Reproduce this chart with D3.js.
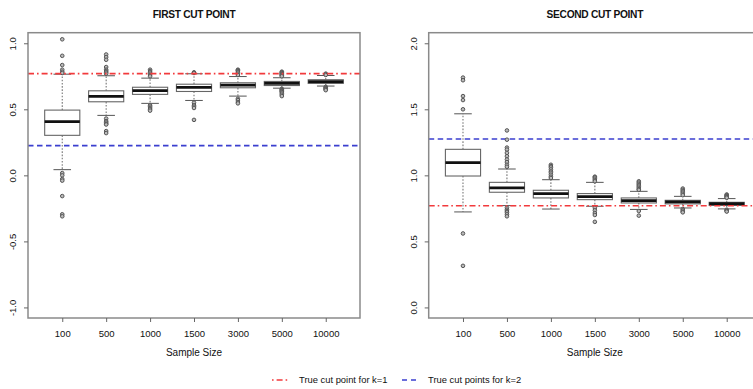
<!DOCTYPE html>
<html>
<head>
<meta charset="utf-8">
<script src="https://cdn.jsdelivr.net/npm/d3@7"></script>
<style>
  html, body { margin: 0; padding: 0; background: #fff; }
  svg { display: block; font-family: "Liberation Sans", Arial, sans-serif; }
</style>
</head>
<body>
<svg id="chart" width="753" height="389"></svg>
<script>
// Sample sizes on the x axis
const sampleSizes = ["100", "500", "1000", "1500", "3000", "5000", "10000"];

// First cut point: box-plot summaries per sample size
const firstLowWhisker = [0.043, 0.454, 0.545, 0.567, 0.600, 0.660, 0.676];
const firstQ1         = [0.303, 0.557, 0.613, 0.635, 0.663, 0.680, 0.696];
const firstMedian     = [0.406, 0.598, 0.642, 0.666, 0.683, 0.696, 0.710];
const firstQ3         = [0.494, 0.640, 0.667, 0.690, 0.701, 0.711, 0.724];
const firstHighWhisker= [0.766, 0.754, 0.736, 0.769, 0.748, 0.739, 0.756];
const firstOutliers = [
  [1.03, 0.905, 0.835, 0.80, 0.785, 0.775, 0.017, 0.0, -0.028, -0.04, -0.157, -0.295, -0.31],
  [0.915, 0.895, 0.875, 0.82, 0.80, 0.79, 0.78, 0.77, 0.43, 0.41, 0.40, 0.39, 0.385, 0.335, 0.32],
  [0.80, 0.79, 0.78, 0.77, 0.76, 0.75, 0.53, 0.52, 0.51, 0.50, 0.49],
  [0.78, 0.775, 0.55, 0.53, 0.52, 0.51, 0.42],
  [0.80, 0.795, 0.79, 0.78, 0.77, 0.76, 0.58, 0.57, 0.555, 0.545],
  [0.785, 0.78, 0.775, 0.77, 0.765, 0.76, 0.755, 0.75, 0.655, 0.65, 0.645, 0.64, 0.635, 0.63, 0.62, 0.61, 0.60],
  [0.77, 0.765, 0.76, 0.67, 0.665, 0.66, 0.655, 0.65, 0.645]
];

// Second cut point: box-plot summaries per sample size
const secondLowWhisker = [0.723, 0.771, 0.745, 0.766, 0.742, 0.753, 0.746];
const secondQ1         = [0.995, 0.872, 0.829, 0.816, 0.791, 0.784, 0.773];
const secondMedian     = [1.096, 0.905, 0.862, 0.839, 0.809, 0.799, 0.785];
const secondQ3         = [1.197, 0.947, 0.887, 0.862, 0.829, 0.811, 0.796];
const secondHighWhisker= [1.466, 1.048, 0.967, 0.947, 0.879, 0.841, 0.824];
const secondOutliers = [
  [1.74, 1.72, 1.60, 1.57, 1.50, 0.56, 0.315],
  [1.34, 1.27, 1.21, 1.195, 1.17, 1.145, 1.12, 1.10, 1.08, 1.065, 0.755, 0.74, 0.73, 0.72, 0.705, 0.69],
  [1.08, 1.07, 1.06, 1.045, 1.03, 1.02, 1.005, 0.99, 0.98],
  [0.99, 0.985, 0.975, 0.965, 0.955, 0.755, 0.735, 0.715, 0.70, 0.648],
  [0.955, 0.945, 0.935, 0.925, 0.915, 0.905, 0.895, 0.89, 0.73, 0.695],
  [0.90, 0.89, 0.88, 0.87, 0.86, 0.85, 0.745, 0.735, 0.725, 0.72],
  [0.855, 0.85, 0.845, 0.84, 0.835, 0.83, 0.74, 0.735, 0.73, 0.726]
];

// Reference lines: true cut points
const trueCutK1 = [0.77, 0.77];
const trueCutK2 = [0.225, 1.275];

// Axis ticks and titles
const firstTicks  = [-1.0, -0.5, 0.0, 0.5, 1.0];
const secondTicks = [0.0, 0.5, 1.0, 1.5, 2.0];
const panelTitles = ["FIRST CUT POINT", "SECOND CUT POINT"];
const xTitle = "Sample Size";
const legendLabels = ["True cut point for k=1", "True cut points for k=2"];

const RED = "#f23a3c", BLUE = "#3b3fcf", FRAME = "#8a8a8a", TEXT = "#111";
const svg = d3.select("#chart");

function buildStats(lo, q1, med, q3, hi, out) {
  return sampleSizes.map((s, i) => ({ size: s, lo: lo[i], q1: q1[i], med: med[i], q3: q3[i], hi: hi[i], out: out[i] }));
}

function drawPanel(cfg) {
  const { left, right, top, bottom, ylim, ticks, stats, title, k1, k2 } = cfg;
  const g = svg.append("g");
  const x = d3.scalePoint().domain(sampleSizes).range([left, right]).padding(0.78);
  const pad = (ylim[1] - ylim[0]) * 0.04;
  const y = d3.scaleLinear().domain([ylim[0] - pad, ylim[1] + pad]).range([bottom, top]);
  const halfBox = x.step() * 0.4;
  const halfCap = halfBox * 0.5;

  // k=2 reference line sits under the boxes
  g.append("line").attr("x1", left).attr("x2", right)
    .attr("y1", y(k2)).attr("y2", y(k2))
    .attr("stroke", BLUE).attr("stroke-width", 1.6).attr("stroke-dasharray", "5.5,3.5");

  const box = g.selectAll("g.box").data(stats).enter().append("g").attr("class", "box");
  // whiskers
  box.append("line").attr("x1", d => x(d.size)).attr("x2", d => x(d.size))
    .attr("y1", d => y(d.q3)).attr("y2", d => y(d.hi))
    .attr("stroke", "#777").attr("stroke-width", 1.1).attr("stroke-dasharray", "1.6,1.6");
  box.append("line").attr("x1", d => x(d.size)).attr("x2", d => x(d.size))
    .attr("y1", d => y(d.q1)).attr("y2", d => y(d.lo))
    .attr("stroke", "#777").attr("stroke-width", 1.1).attr("stroke-dasharray", "1.6,1.6");
  // staples
  ["hi", "lo"].forEach(k => {
    box.append("line").attr("x1", d => x(d.size) - halfCap).attr("x2", d => x(d.size) + halfCap)
      .attr("y1", d => y(d[k])).attr("y2", d => y(d[k]))
      .attr("stroke", "#555").attr("stroke-width", 1);
  });
  // interquartile box
  box.append("rect").attr("x", d => x(d.size) - halfBox).attr("width", halfBox * 2)
    .attr("y", d => y(d.q3)).attr("height", d => Math.max(1, y(d.q1) - y(d.q3)))
    .attr("fill", "#fff").attr("stroke", "#666").attr("stroke-width", 1.1);
  // median
  box.append("line").attr("x1", d => x(d.size) - halfBox).attr("x2", d => x(d.size) + halfBox)
    .attr("y1", d => y(d.med)).attr("y2", d => y(d.med))
    .attr("stroke", "#111").attr("stroke-width", 2.8);
  // outliers
  box.selectAll("circle").data(d => d.out.map(v => ({ size: d.size, v })))
    .enter().append("circle")
    .attr("cx", d => x(d.size)).attr("cy", d => y(d.v)).attr("r", 1.8)
    .attr("fill", "#bbb").attr("stroke", "#555").attr("stroke-width", 1);

  // k=1 reference line
  g.append("line").attr("x1", left).attr("x2", right)
    .attr("y1", y(k1)).attr("y2", y(k1))
    .attr("stroke", RED).attr("stroke-width", 1.6).attr("stroke-dasharray", "6,3,1.6,3");

  // frame
  g.append("rect").attr("x", left).attr("y", top).attr("width", right - left).attr("height", bottom - top)
    .attr("fill", "none").attr("stroke", FRAME).attr("stroke-width", 1.5);

  // y axis with rotated labels
  const ya = g.append("g").attr("transform", `translate(${left},0)`)
    .call(d3.axisLeft(y).tickValues(ticks).tickSize(4).tickFormat(d => d.toFixed(1)));
  ya.select(".domain").remove();
  ya.selectAll(".tick line").attr("stroke", "#666");
  ya.selectAll(".tick text")
    .attr("x", null).attr("y", null).attr("dy", "0.35em").attr("text-anchor", "middle")
    .attr("transform", "translate(-15,0) rotate(-90)")
    .style("font-size", "9.5px").style("fill", TEXT).style("font-family", "'Liberation Sans', Arial, sans-serif");

  // x axis
  const xa = g.append("g").attr("transform", `translate(0,${bottom})`)
    .call(d3.axisBottom(x).tickSize(4).tickPadding(8));
  xa.select(".domain").remove();
  xa.selectAll(".tick line").attr("stroke", "#666");
  xa.selectAll(".tick text").style("font-size", "9.5px").style("fill", TEXT)
    .style("font-family", "'Liberation Sans', Arial, sans-serif");

  g.append("text").attr("x", (left + right) / 2).attr("y", 356).attr("text-anchor", "middle")
    .style("font-size", "10px").style("fill", TEXT).text(xTitle);
  g.append("text").attr("x", (left + right) / 2).attr("y", 18).attr("text-anchor", "middle")
    .style("font-size", "10.2px").style("font-weight", "bold").style("letter-spacing", "-0.3px")
    .style("fill", "#111").text(title);
}

drawPanel({ left: 28, right: 360, top: 32.7, bottom: 318, ylim: [-1, 1], ticks: firstTicks,
  stats: buildStats(firstLowWhisker, firstQ1, firstMedian, firstQ3, firstHighWhisker, firstOutliers),
  title: panelTitles[0], k1: trueCutK1[0], k2: trueCutK2[0] });
drawPanel({ left: 428.7, right: 761, top: 32.7, bottom: 318, ylim: [0, 2], ticks: secondTicks,
  stats: buildStats(secondLowWhisker, secondQ1, secondMedian, secondQ3, secondHighWhisker, secondOutliers),
  title: panelTitles[1], k1: trueCutK1[1], k2: trueCutK2[1] });

// legend
const lg = svg.append("g");
const ly = 380;
lg.append("line").attr("x1", 272).attr("x2", 288).attr("y1", ly).attr("y2", ly)
  .attr("stroke", RED).attr("stroke-width", 1.5).attr("stroke-dasharray", "1.6,3,6,3");
lg.append("text").attr("x", 299).attr("y", ly).attr("dy", "0.35em")
  .style("font-size", "9.4px").style("fill", TEXT).text(legendLabels[0]);
lg.append("line").attr("x1", 402).attr("x2", 416).attr("y1", ly).attr("y2", ly)
  .attr("stroke", BLUE).attr("stroke-width", 1.5).attr("stroke-dasharray", "5,4");
lg.append("text").attr("x", 428).attr("y", ly).attr("dy", "0.35em")
  .style("font-size", "9.4px").style("fill", TEXT).text(legendLabels[1]);
</script>
</body>
</html>
